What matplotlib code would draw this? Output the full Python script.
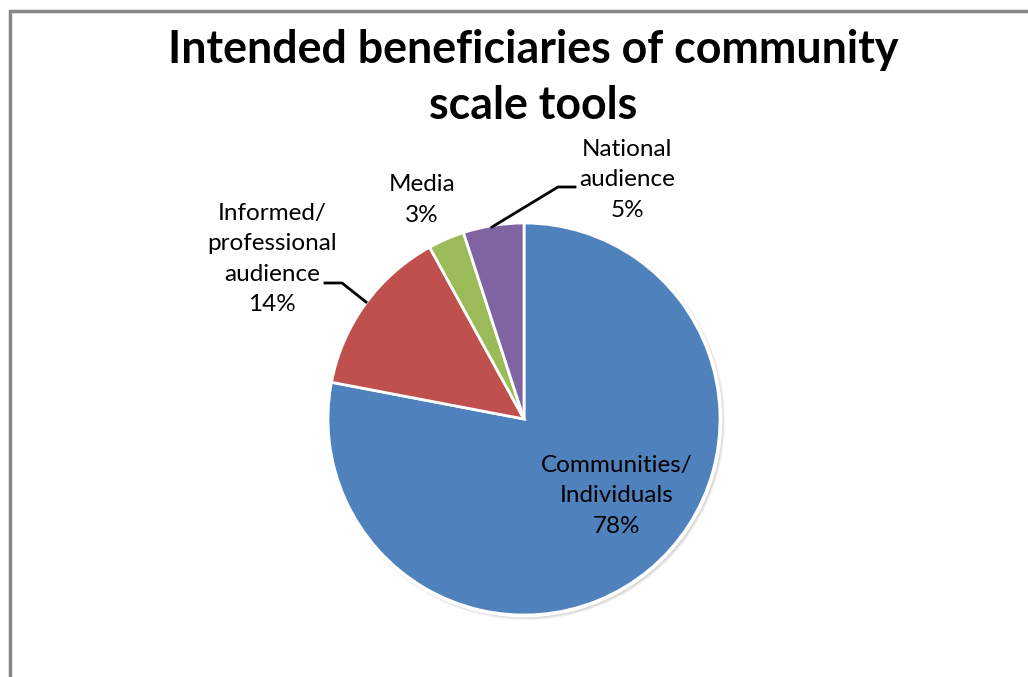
import matplotlib
matplotlib.use("Agg")
import matplotlib.pyplot as plt
from matplotlib.patches import Circle
from matplotlib.lines import Line2D

# Data
categories = ["Communities/\nIndividuals", "Informed/\nprofessional\naudience", "Media", "National\naudience"]
shares = [78, 14, 3, 5]
colors = ["#4F81BD", "#C0504D", "#9BBB59", "#8064A2"]

W, H = 1028, 677
fig = plt.figure(figsize=(W / 100, H / 100), dpi=100)
ax = fig.add_axes([0, 0, 1, 1])

plt.rcParams["font.family"] = ["Lato", "DejaVu Sans"]

cx, cy, r = 524, H - 419, 196

# soft shadow behind the pie
for i, a in enumerate([0.05, 0.05, 0.05, 0.04]):
    ax.add_patch(Circle((cx + 2, cy - 2), r + 3 - i, facecolor="#000000",
                        alpha=a, edgecolor="none", zorder=1))

wedges, _ = ax.pie(shares, colors=colors, startangle=90, counterclock=False,
                   center=(cx, cy), radius=r, frame=True,
                   wedgeprops=dict(edgecolor="white", linewidth=2, zorder=2))
ax.set_xlim(0, W)
ax.set_ylim(0, H)
ax.set_aspect("equal")
ax.axis("off")
ax.add_patch(Circle((cx, cy), r + 1, facecolor="none", edgecolor="white",
                    linewidth=2, zorder=3))

def y(v):
    return H - v

# Data labels
label_pos = [(617, 496), (272, 259), (422, 200), (627, 180)]
for name, val, (lx, ly) in zip(categories, shares, label_pos):
    ax.text(lx, y(ly), f"{name}\n{val}%", ha="center", va="center",
            fontsize=17.5, color="#000000", linespacing=1.53, zorder=5)

# Leader lines
ax.add_line(Line2D([325, 342, 366], [y(283), y(283), y(302)], color="black",
                   linewidth=2, zorder=4))
ax.add_line(Line2D([575, 558, 492], [y(187), y(187), y(227)], color="black",
                   linewidth=2, zorder=4))

# Title
ax.text(533, y(78), "Intended beneficiaries of community\nscale tools",
        ha="center", va="center", fontsize=32.2, fontweight="bold",
        color="#000000", linespacing=1.39, zorder=5)

# Chart-area frame (only the top and left edges fall within the image)
ax.add_line(Line2D([10, 10, W + 5], [-5, y(11), y(11)], color="#878787",
                   linewidth=2.5, zorder=6, solid_joinstyle="miter"))

fig.savefig("out.png", dpi=100, facecolor="white")
